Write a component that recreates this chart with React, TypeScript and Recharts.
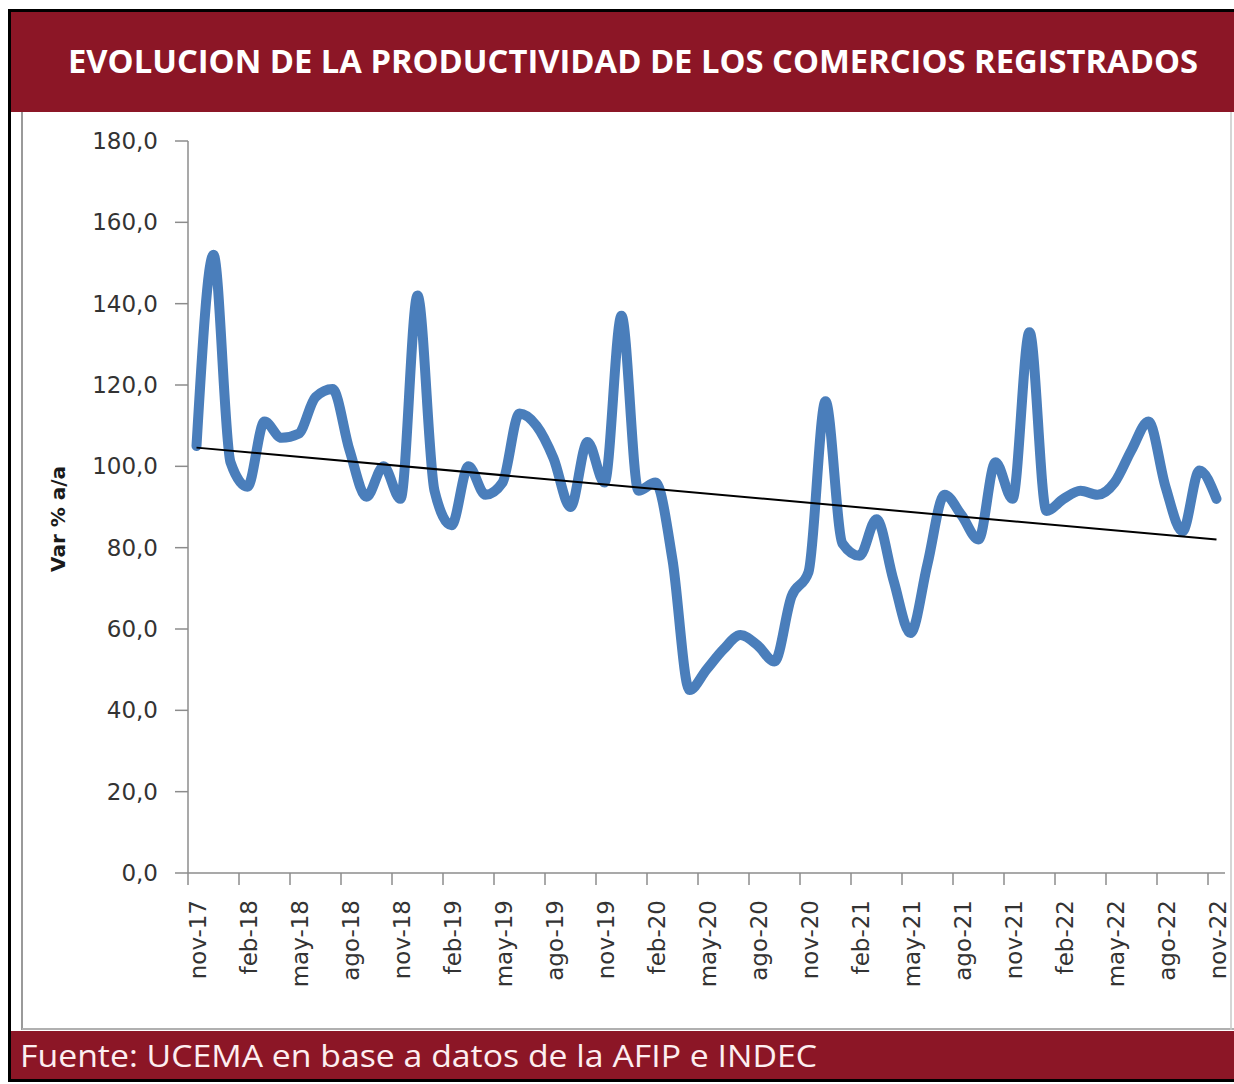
import React from 'react';
import { ComposedChart, Line, XAxis, YAxis } from 'recharts';

const categories: string[] = [
  'nov-17', 'dic-17', 'ene-18', 'feb-18', 'mar-18', 'abr-18', 'may-18', 'jun-18', 'jul-18', 'ago-18', 'sep-18', 'oct-18',
  'nov-18', 'dic-18', 'ene-19', 'feb-19', 'mar-19', 'abr-19', 'may-19', 'jun-19', 'jul-19', 'ago-19', 'sep-19', 'oct-19',
  'nov-19', 'dic-19', 'ene-20', 'feb-20', 'mar-20', 'abr-20', 'may-20', 'jun-20', 'jul-20', 'ago-20', 'sep-20', 'oct-20',
  'nov-20', 'dic-20', 'ene-21', 'feb-21', 'mar-21', 'abr-21', 'may-21', 'jun-21', 'jul-21', 'ago-21', 'sep-21', 'oct-21',
  'nov-21', 'dic-21', 'ene-22', 'feb-22', 'mar-22', 'abr-22', 'may-22', 'jun-22', 'jul-22', 'ago-22', 'sep-22', 'oct-22',
  'nov-22',
];

const productividad: number[] = [
  105, 152, 101, 95, 111, 107, 108, 117, 119, 104, 92.5, 100,
  92, 142, 94, 85.5, 100, 93, 96, 113, 110, 102, 90, 106,
  96, 137, 94, 96, 77, 45, 50, 55, 58.5, 56, 52, 68,
  74, 116, 81, 78, 87, 72, 59, 76, 93, 88, 82, 101,
  92, 133, 89, 92, 94, 93, 96, 104, 111, 95, 84, 99,
  92,
];

const trendStart = 104.6;
const trendEnd = 82.0;

const yTicks: number[] = [0, 20, 40, 60, 80, 100, 120, 140, 160, 180];

const title = 'EVOLUCION DE LA PRODUCTIVIDAD DE LOS COMERCIOS REGISTRADOS';
const source = 'Fuente: UCEMA en base a datos de la AFIP e INDEC';
const yLabel = 'Var % a/a';

const data = categories.map((c, i) => ({
  label: c,
  value: productividad[i],
  trend: i === 0 ? trendStart : i === categories.length - 1 ? trendEnd : null,
}));

const W = 1234;
const H = 1084;
const MARGIN = { top: 141, right: 9, bottom: 131, left: 128 };
const PLOT_W = W - MARGIN.left - 60 - MARGIN.right;
const BAND = PLOT_W / categories.length;

const FONT = '"DejaVu Sans", sans-serif';
const AXIS_COLOR = '#8c8c8c';
const TEXT_COLOR = '#333333';

const XTick = (props: any) => {
  const { x, y, payload } = props;
  const tx = x - BAND / 2;
  return (
    <g>
      <line x1={tx} y1={y} x2={tx} y2={y + 12} stroke={AXIS_COLOR} strokeWidth={1.5} />
      <text
        x={0}
        y={0}
        transform={`translate(${x + 1},${y + 27}) rotate(-90)`}
        textAnchor="end"
        dominantBaseline="central"
        fontFamily={FONT}
        fontSize={23}
        fill={TEXT_COLOR}
      >
        {payload.value}
      </text>
    </g>
  );
};

const YTick = (props: any) => {
  const { x, y, payload } = props;
  return (
    <g>
      <line x1={x - 13} y1={y} x2={x} y2={y} stroke={AXIS_COLOR} strokeWidth={1.5} />
      <text
        x={x - 30}
        y={y}
        textAnchor="end"
        dominantBaseline="central"
        fontFamily={FONT}
        fontSize={23}
        fill={TEXT_COLOR}
      >
        {Number(payload.value).toFixed(1).replace('.', ',')}
      </text>
    </g>
  );
};

const RED = '#8c1626';

export default function App() {
  return (
    <div style={{ position: 'absolute', left: 0, top: 0, width: W, height: H, background: '#ffffff', overflow: 'hidden' }}>
      <div style={{ position: 'absolute', left: 0, top: 0 }}>
        <ComposedChart width={W} height={H} data={data} margin={MARGIN}>
          <XAxis
            dataKey="label"
            type="category"
            scale="band"
            interval={2}
            height={80}
            tickLine={false}
            tickSize={0}
            tickMargin={0}
            axisLine={{ stroke: AXIS_COLOR, strokeWidth: 1.5 }}
            tick={<XTick />}
          />
          <YAxis
            type="number"
            domain={[0, 180]}
            ticks={yTicks}
            width={60}
            tickLine={false}
            tickSize={0}
            tickMargin={0}
            axisLine={{ stroke: AXIS_COLOR, strokeWidth: 1.5 }}
            tick={<YTick />}
          />
          <Line
            dataKey="value"
            type="monotone"
            stroke="#4a7ebb"
            strokeWidth={10}
            strokeLinejoin="round"
            strokeLinecap="round"
            dot={false}
            activeDot={false}
            isAnimationActive={false}
          />
          <Line
            dataKey="trend"
            type="linear"
            stroke="#000000"
            strokeWidth={2}
            connectNulls
            dot={false}
            activeDot={false}
            isAnimationActive={false}
          />
        </ComposedChart>
      </div>
      <svg width={W} height={H} style={{ position: 'absolute', left: 0, top: 0, pointerEvents: 'none' }}>
        <rect x={11} y={12} width={W - 11} height={100} fill={RED} />
        <text
          x={68}
          y={73}
          textLength={1130}
          lengthAdjust="spacingAndGlyphs"
          fontFamily='"Open Sans", sans-serif'
          fontWeight={700}
          fontSize={33}
          fill="#ffffff"
        >
          {title}
        </text>
        <rect x={11} y={1031} width={W - 11} height={49} fill={RED} />
        <text
          x={20}
          y={1067}
          textLength={797}
          lengthAdjust="spacingAndGlyphs"
          fontFamily='"Open Sans", sans-serif'
          fontSize={31}
          fill="#fdeef0"
        >
          {source}
        </text>
        <line x1={22} y1={112} x2={22} y2={1030} stroke="#9a9a9a" strokeWidth={2} />
        <line x1={22} y1={1029} x2={W} y2={1029} stroke="#b0b0b0" strokeWidth={2} />
        <line x1={1231} y1={112} x2={1231} y2={1030} stroke="#c8c8c8" strokeWidth={1.5} />
        <line x1={9.5} y1={9} x2={9.5} y2={1082} stroke="#000000" strokeWidth={3} />
        <line x1={8} y1={10.5} x2={W} y2={10.5} stroke="#000000" strokeWidth={3} />
        <line x1={8} y1={1080.5} x2={W} y2={1080.5} stroke="#000000" strokeWidth={3} />
        <text
          x={0}
          y={0}
          transform="translate(58,519) rotate(-90)"
          textAnchor="middle"
          dominantBaseline="central"
          fontFamily={FONT}
          fontWeight={700}
          fontSize={20}
          fill="#1a1a1a"
        >
          {yLabel}
        </text>
      </svg>
    </div>
  );
}
